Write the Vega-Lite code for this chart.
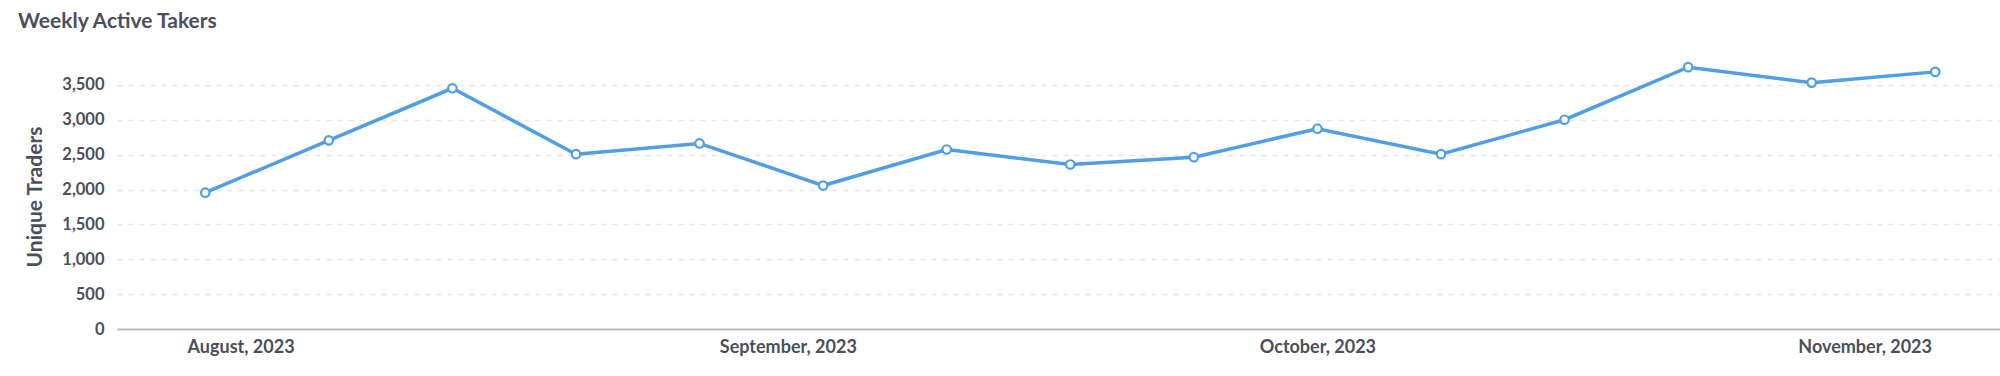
{
  "$schema": "https://vega.github.io/schema/vega-lite/v6.json",
  "autosize": {"type": "none"},
  "width": 1883,
  "height": 265,
  "padding": {"left": 117, "top": 64, "right": 0, "bottom": 47},
  "background": "white",
  "title": {
    "text": "Weekly Active Takers",
    "anchor": "start",
    "frame": "group",
    "orient": "top",
    "baseline": "alphabetic",
    "offset": 0,
    "dx": -99,
    "dy": -10,
    "font": "Lato",
    "fontSize": 21,
    "fontWeight": "bold",
    "color": "#4a4f5c"
  },
  "config": {
    "view": {"stroke": null},
    "axis": {"labelFont": "Lato", "titleFont": "Lato"}
  },
  "data": {
    "values": [
      {"week": "2023-07-30T00:00:00", "traders": 1955},
      {"week": "2023-08-06T00:00:00", "traders": 2705},
      {"week": "2023-08-13T00:00:00", "traders": 3452},
      {"week": "2023-08-20T00:00:00", "traders": 2507},
      {"week": "2023-08-27T00:00:00", "traders": 2661},
      {"week": "2023-09-03T00:00:00", "traders": 2057},
      {"week": "2023-09-10T00:00:00", "traders": 2574},
      {"week": "2023-09-17T00:00:00", "traders": 2359},
      {"week": "2023-09-24T00:00:00", "traders": 2464},
      {"week": "2023-10-01T00:00:00", "traders": 2872},
      {"week": "2023-10-08T00:00:00", "traders": 2507},
      {"week": "2023-10-15T00:00:00", "traders": 3001},
      {"week": "2023-10-22T00:00:00", "traders": 3754},
      {"week": "2023-10-29T00:00:00", "traders": 3533},
      {"week": "2023-11-05T00:00:00", "traders": 3687}
    ]
  },
  "encoding": {
    "x": {
      "field": "week",
      "type": "temporal",
      "scale": {
        "domain": [
          {"year": 2023, "month": 7, "date": 25},
          {"year": 2023, "month": 11, "date": 8, "hours": 16}
        ]
      },
      "axis": {
        "title": null,
        "values": [
          {"year": 2023, "month": 8, "date": 1},
          {"year": 2023, "month": 9, "date": 1},
          {"year": 2023, "month": 10, "date": 1},
          {"year": 2023, "month": 11, "date": 1}
        ],
        "format": "%B, %Y",
        "labelFontSize": 18,
        "labelFontWeight": "bold",
        "labelColor": "#4a4f5c",
        "labelPadding": 9,
        "ticks": false,
        "grid": false,
        "domainColor": "#b6b9c0",
        "domainWidth": 2
      }
    },
    "y": {
      "field": "traders",
      "type": "quantitative",
      "scale": {"domain": [0, 3800], "nice": false},
      "axis": {
        "title": "Unique Traders",
        "titleFontSize": 21,
        "titleFontWeight": "bold",
        "titleColor": "#4a4f5c",
        "titlePadding": 16,
        "values": [0, 500, 1000, 1500, 2000, 2500, 3000, 3500],
        "format": ",d",
        "labelFontSize": 16.5,
        "labelFontWeight": "bold",
        "labelColor": "#4a4f5c",
        "labelPadding": 13,
        "ticks": false,
        "domain": false,
        "grid": true,
        "gridColor": "#e4e6ea",
        "gridDash": [5, 6],
        "gridWidth": 1.5
      }
    }
  },
  "layer": [
    {
      "mark": {"type": "line", "color": "#509ee3", "strokeWidth": 3.5}
    },
    {
      "mark": {"type": "point", "filled": true, "fill": "white", "stroke": "#509ee3", "strokeWidth": 2.2, "size": 72, "opacity": 1}
    }
  ]
}
